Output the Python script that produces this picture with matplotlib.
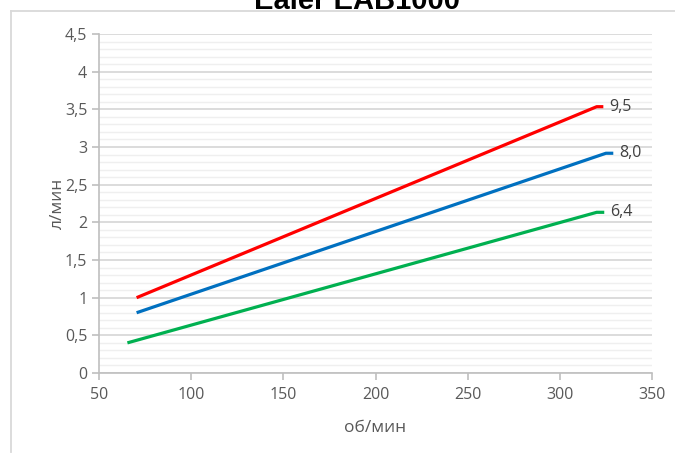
import matplotlib
matplotlib.use('Agg')
import matplotlib.pyplot as plt
from matplotlib.ticker import MultipleLocator, FuncFormatter
from matplotlib.lines import Line2D

# Data
title = 'Ealer EAB1000'
x_label = 'об/мин'
y_label = 'л/мин'

series_names = ['9,5', '8,0', '6,4']
series_colors = ['#ff0000', '#0070c0', '#00b050']
series_x = [
    [70.4, 320.0, 323.6],
    [70.4, 325.0, 329.0],
    [65.4, 320.0, 324.1],
]
series_y = [
    [1.00, 3.535, 3.535],
    [0.80, 2.917, 2.917],
    [0.40, 2.133, 2.133],
]

plt.rcParams['font.family'] = ['Open Sans', 'DejaVu Sans']
text_grey = '#595959'

fig = plt.figure(figsize=(6.75, 4.55), dpi=100)
ax = fig.add_axes([99 / 675, 1 - 373 / 455, (652 - 99) / 675, (373 - 34) / 455])

for xs, ys, name, color in zip(series_x, series_y, series_names, series_colors):
    ax.plot(xs, ys, color=color, linewidth=2.3, solid_capstyle='butt', zorder=3)
    ax.annotate(name, xy=(xs[-1], ys[-1]), xytext=(4, 0), textcoords='offset points',
                va='center', ha='left', fontsize=11.5, color='#404040')

ax.set_xlim(50, 350)
ax.set_ylim(0, 4.5)
ax.xaxis.set_major_locator(MultipleLocator(50))
ax.yaxis.set_major_locator(MultipleLocator(0.5))
ax.yaxis.set_minor_locator(MultipleLocator(0.1))
ax.yaxis.set_major_formatter(FuncFormatter(lambda v, p: f'{v:g}'.replace('.', ',')))

ax.grid(axis='y', which='major', color='#d9d9d9', linewidth=1.3, zorder=0)
ax.grid(axis='y', which='minor', color='#efefef', linewidth=1.0, zorder=0)
ax.set_axisbelow(True)

for side in ['top', 'right']:
    ax.spines[side].set_visible(False)
for side in ['left', 'bottom']:
    ax.spines[side].set_color('#bfbfbf')
    ax.spines[side].set_linewidth(1.2)

ax.tick_params(axis='both', which='major', direction='out', length=5, width=1.2,
               color='#bfbfbf', labelcolor=text_grey, labelsize=11.5)
ax.tick_params(axis='y', which='minor', length=0)
ax.tick_params(axis='x', pad=5)

ax.set_xlabel(x_label, fontsize=12.5, color=text_grey, labelpad=12)
ax.set_ylabel(y_label, fontsize=12.5, color=text_grey, labelpad=-1)

# chart area border (cropped at right and bottom in the reference)
fig.add_artist(Line2D([11 / 675, 11 / 675], [1 - 10.5 / 455, 1 - 452 / 455],
                      transform=fig.transFigure, color='#d9d9d9', linewidth=1.3))
fig.add_artist(Line2D([11 / 675, 1.0], [1 - 10.5 / 455, 1 - 10.5 / 455],
                      transform=fig.transFigure, color='#d9d9d9', linewidth=1.3))

fig.text(357 / 675, 1 - 9 / 455, title, ha='center', va='baseline', fontsize=21,
         fontweight='bold', family='Liberation Sans', color='black')

fig.savefig('out.png', dpi=100)
